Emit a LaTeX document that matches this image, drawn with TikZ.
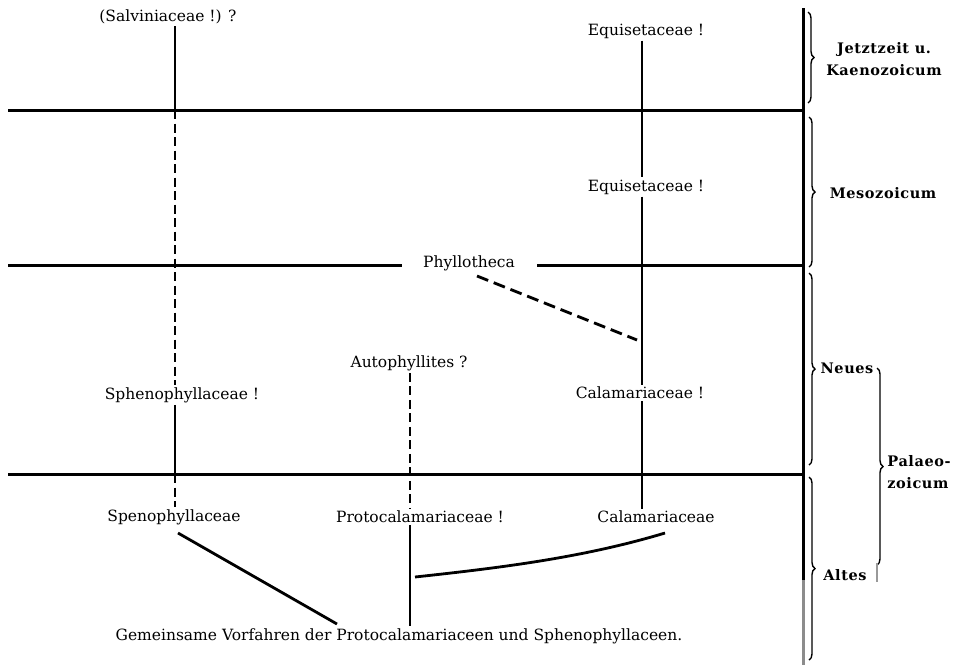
\documentclass[tikz,border=0pt]{standalone}
\usepackage{fontspec}
\setmainfont{DejaVu Serif}
\usetikzlibrary{decorations.pathreplacing,calc}
\begin{document}
\begin{tikzpicture}[x=1pt,y=-1pt,
  lbl/.style={inner sep=2pt, font=\fontsize{15.5}{17}\selectfont},
  era/.style={inner sep=1pt, font=\fontsize{14.5}{22}\selectfont\bfseries\addfontfeatures{LetterSpace=4}, align=center},
  hline/.style={line width=3pt},
  stem/.style={line width=2.8pt},
  dsh/.style={line width=2.8pt, dash pattern=on 9pt off 4.5pt},
  dshd/.style={line width=2.8pt, dash pattern=on 12pt off 6pt},
  br/.style={line width=1.4pt, decorate, decoration={brace, amplitude=6pt}}]
\useasboundingbox (0,0) rectangle (957,665);

% column and line coordinates
\coordinate (colL) at (175,0);
\coordinate (colM) at (410,0);
\coordinate (colR) at (642,0);
\coordinate (h1w) at (8,110);  \coordinate (h1e) at (803,110);
\coordinate (h2w) at (8,265);  \coordinate (h2e) at (803,265);
\coordinate (h3w) at (8,474);  \coordinate (h3e) at (803,474);
\coordinate (bartop) at (803,8);
\coordinate (barmid) at (803,580);
\coordinate (barbot) at (803,665);

% labels
\node[lbl] (salv) at (168,17) {(Salviniaceae !) ?};
\node[lbl] (equ1) at (646,31) {Equisetaceae !};
\node[lbl] (equ2) at (646,187) {Equisetaceae !};
\node[lbl] (phyl) at (469,263) {Phyllotheca};
\node[lbl] (auto) at (409,363) {Autophyllites ?};
\node[lbl] (sph1) at (182,395) {Sphenophyllaceae !};
\node[lbl] (cal1) at (640,393) {Calamariaceae !};
\node[lbl] (sph2) at (174,517) {Spenophyllaceae};
\node[lbl] (proto) at (420,517) {Protocalamariaceae !};
\node[lbl] (cal2) at (656,517) {Calamariaceae};
\node[lbl] (gem) at (399,636) {Gemeinsame Vorfahren der Protocalamariaceen und Sphenophyllaceen.};

% free ends of connectors
\coordinate (pstart) at (477,276);
\coordinate (pend) at (637,340);
\coordinate (sstart) at (178,533);
\coordinate (send) at (337,624);
\coordinate (jn) at (415,577);
\coordinate (cend) at (665,533);

% era labels
\node[era] (jetzt) at (884,59) {Jetztzeit u.\\Kaenozoicum};
\node[era] (meso) at (883,193) {Mesozoicum};
\node[era] (neues) at (847,368) {Neues};
\node[era] (altes) at (845,575) {Altes};
\node[era, align=left] (palaeo) at (919,472) {Palaeo-\\zoicum};

% horizontal time lines
\draw[hline] (h1w) -- (h1e);
\draw[hline] (h2w) -- (402,265);
\draw[hline] (537,265) -- (h2e);
\draw[hline] (h3w) -- (h3e);

% main vertical bar
\draw[line width=3pt] (bartop) -- (barmid);
\draw[line width=3pt, black!45] (barmid) -- (barbot);

% braces
\draw[br] (808,12) -- (808,103);
\draw[br] (809,117) -- (809,267);
\draw[br] (809,273) -- (809,465);
\draw[br] (809,477) -- (809,660);
\draw[br] (877,368) -- (877,565);
\draw[line width=1.5pt, black!40] (877,563) -- (877,582);

% left column
\draw[stem] (salv.south -| colL) -- (h1w -| colL);
\draw[dsh] (h1w -| colL) -- (sph1.north -| colL);
\draw[stem] (sph1.south -| colL) -- (h3w -| colL);
\draw[dsh] (h3w -| colL) -- (sph2.north -| colL);
\draw[stem] (sstart) -- (send);

% middle column
\draw[dsh] (auto.south -| colM) -- (proto.north -| colM);
\draw[stem] (proto.south -| colM) -- (gem.north -| colM);
\draw[stem] (jn) .. controls (498,568) and (582,558) .. (cend);

% right column
\draw[stem] (equ1.south -| colR) -- (equ2.north -| colR);
\draw[stem] (equ2.south -| colR) -- (cal1.north -| colR);
\draw[stem] (cal1.south -| colR) -- (cal2.north -| colR);
\draw[dshd] (pstart) -- (pend);
\end{tikzpicture}
\end{document}
